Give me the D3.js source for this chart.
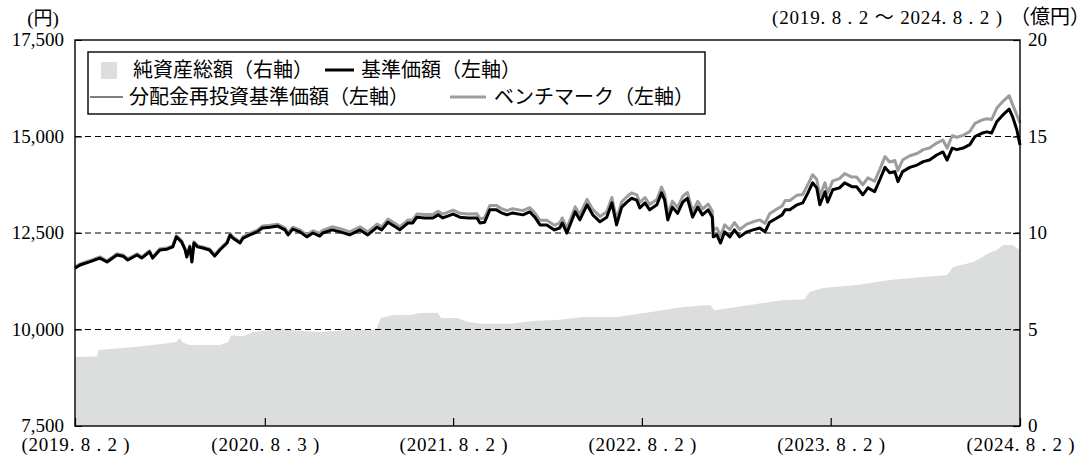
<!DOCTYPE html>
<html>
<head>
<meta charset="utf-8">
<script src="https://cdn.jsdelivr.net/npm/d3@7"></script>
<style>
  body { margin: 0; background: #fff; }
  svg { display: block; }
  text { font-family: "Liberation Serif", "Noto Sans CJK JP", serif; fill: #000; }
  .jp { font-family: "Noto Sans CJK JP", sans-serif; }
</style>
</head>
<body>
<svg id="chart" width="1091" height="461"></svg>
<script>
// dates of the price readings
const dates = [
  "2019-08-02","2019-08-12","2019-08-30","2019-09-19","2019-10-03","2019-10-22","2019-11-03","2019-11-12","2019-11-30","2019-12-09",
  "2019-12-24","2019-12-30","2020-01-13","2020-01-27","2020-02-07","2020-02-14","2020-02-24","2020-03-02","2020-03-05","2020-03-11",
  "2020-03-15","2020-03-19","2020-03-26","2020-04-05","2020-04-18","2020-04-28","2020-05-08","2020-05-22","2020-05-28","2020-06-02",
  "2020-06-16","2020-06-22","2020-07-05","2020-07-19","2020-07-29","2020-08-13","2020-08-28","2020-09-11","2020-09-17","2020-09-26",
  "2020-10-10","2020-10-23","2020-11-04","2020-11-17","2020-11-23","2020-12-11","2020-12-27","2021-01-14","2021-02-03","2021-02-18",
  "2021-03-08","2021-03-17","2021-03-29","2021-04-16","2021-04-21","2021-05-07","2021-05-16","2021-05-24","2021-06-08","2021-06-24",
  "2021-07-04","2021-07-13","2021-08-02","2021-08-15","2021-08-31","2021-09-17","2021-09-23","2021-10-02","2021-10-12","2021-10-25",
  "2021-11-04","2021-11-14","2021-11-25","2021-12-15","2021-12-28","2022-01-07","2022-01-17","2022-01-30","2022-02-14","2022-02-24",
  "2022-03-01","2022-03-10","2022-03-26","2022-04-04","2022-04-18","2022-04-29","2022-05-13","2022-05-26","2022-06-05","2022-06-14",
  "2022-06-24","2022-07-04","2022-07-13","2022-07-23","2022-07-29","2022-08-08","2022-08-17","2022-08-31","2022-09-09","2022-09-15",
  "2022-09-21","2022-09-30","2022-10-10","2022-10-20","2022-10-29","2022-11-08","2022-11-18","2022-11-27","2022-12-08","2022-12-16",
  "2022-12-18","2022-12-25","2023-01-01","2023-01-09","2023-01-19","2023-01-28","2023-02-07","2023-02-21","2023-03-05","2023-03-18",
  "2023-03-28","2023-04-06","2023-04-20","2023-04-30","2023-05-06","2023-05-15","2023-05-29","2023-06-09","2023-06-19","2023-06-28",
  "2023-07-06","2023-07-12","2023-07-22","2023-07-27","2023-08-06","2023-08-19","2023-08-29","2023-09-12","2023-09-21","2023-10-03",
  "2023-10-13","2023-10-26","2023-11-05","2023-11-15","2023-11-24","2023-12-04","2023-12-10","2023-12-19","2024-01-02","2024-01-16",
  "2024-01-28","2024-02-09","2024-02-23","2024-03-06","2024-03-14","2024-03-24","2024-04-02","2024-04-14","2024-04-27","2024-05-07",
  "2024-05-21","2024-05-30","2024-06-08","2024-06-18","2024-06-30","2024-07-12","2024-07-19","2024-07-27","2024-08-02"
];

// 基準価額 (円)
const navValues = [
  11590,11670,11750,11850,11750,11930,11900,11800,11930,11850,
  12010,11850,12060,12080,12140,12400,12270,12060,11880,12140,
  11750,12240,12140,12110,12060,11900,12060,12240,12450,12370,
  12240,12370,12450,12530,12630,12650,12680,12580,12450,12600,
  12530,12400,12500,12420,12500,12580,12530,12450,12580,12450,
  12650,12580,12780,12630,12580,12760,12760,12910,12890,12890,
  12970,12890,12990,12910,12890,12890,12760,12780,13100,13100,
  13020,12970,13020,12970,13050,12910,12710,12710,12580,12630,
  12760,12500,13050,12840,13230,12970,12790,12910,13280,12710,
  13170,13300,13400,13350,13150,13280,13100,13230,13540,13350,
  12840,13170,13010,13300,13400,12910,13170,12970,13100,12910,
  12400,12450,12240,12530,12400,12580,12400,12530,12580,12630,
  12530,12780,12890,12970,13100,13100,13230,13280,13540,13800,
  13670,13230,13570,13300,13620,13670,13800,13700,13700,13490,
  13670,13570,13880,14200,14060,14090,13830,14090,14200,14260,
  14350,14390,14520,14600,14390,14700,14660,14700,14790,15000,
  15090,15120,15090,15380,15560,15710,15500,15170,14780
];

// 分配金再投資基準価額 (円): no distributions, so it reads the same as 基準価額
const reinvestValues = navValues;

// ベンチマーク (円)
const benchValues = [
  11620,11700,11780,11880,11780,11960,11930,11830,11960,11880,
  12040,11880,12090,12110,12170,12430,12300,12090,11910,12170,
  11780,12270,12170,12140,12090,11930,12090,12270,12480,12400,
  12270,12400,12490,12570,12680,12700,12730,12630,12500,12650,
  12580,12450,12560,12490,12570,12660,12610,12530,12660,12530,
  12730,12660,12860,12710,12660,12840,12840,12990,12980,12980,
  13060,12990,13090,13010,12990,13000,12870,12890,13210,13210,
  13130,13080,13130,13080,13160,13020,12830,12830,12700,12760,
  12890,12630,13180,12980,13370,13110,12930,13050,13420,12850,
  13310,13440,13540,13490,13290,13420,13240,13370,13690,13500,
  12990,13320,13160,13450,13550,13060,13320,13120,13250,13070,
  12580,12630,12420,12710,12590,12770,12590,12730,12790,12840,
  12750,13000,13120,13200,13340,13340,13480,13500,13760,14010,
  13890,13460,13800,13530,13850,13910,14040,13950,13950,13750,
  13930,13840,14150,14480,14340,14380,14120,14390,14500,14560,
  14660,14700,14830,14910,14700,15020,14980,15030,15130,15340,
  15430,15460,15440,15730,15910,16060,15820,15550,15350
];

// 純資産総額 (億円)
const assetDates = [
  "2019-08-02","2019-09-14","2019-09-16","2019-11-30","2020-02-01","2020-02-14","2020-02-20","2020-02-28","2020-03-11","2020-05-08",
  "2020-05-24","2020-05-30","2020-06-22","2020-07-12","2020-08-28","2020-10-16","2020-11-17","2021-01-14","2021-02-21","2021-03-06",
  "2021-03-15","2021-04-08","2021-05-11","2021-05-31","2021-07-03","2021-07-10","2021-08-10","2021-08-29","2021-09-29","2021-11-19",
  "2022-01-11","2022-02-24","2022-04-09","2022-06-14","2022-08-17","2022-10-20","2022-12-12","2022-12-20","2023-02-27","2023-05-02",
  "2023-06-12","2023-06-22","2023-07-18","2023-09-21","2023-11-24","2024-01-28","2024-03-14","2024-03-26","2024-05-04","2024-06-06",
  "2024-06-18","2024-06-30","2024-07-19","2024-08-02"
];
const assetValues = [
  3.58,3.60,3.94,4.10,4.30,4.35,4.55,4.30,4.20,4.20,
  4.35,4.70,4.65,4.87,5.03,4.92,4.87,4.97,4.97,5.00,
  5.60,5.75,5.75,5.85,5.87,5.60,5.60,5.40,5.30,5.30,
  5.45,5.50,5.65,5.65,5.90,6.17,6.27,6.00,6.27,6.53,
  6.55,6.94,7.15,7.30,7.56,7.72,7.82,8.24,8.50,9.00,
  9.10,9.38,9.38,9.10
];

const xTickDates = ["2019-08-02","2020-08-03","2021-08-02","2022-08-02","2023-08-02","2024-08-02"];
const xTickLabels = ["(2019. 8 . 2 )","(2020. 8 . 3 )","(2021. 8 . 2 )","(2022. 8 . 2 )","(2023. 8 . 2 )","(2024. 8 . 2 )"];
const leftTicks = [7500, 10000, 12500, 15000, 17500];
const rightTicks = [0, 5, 10, 15, 20];
const gridValues = [10000, 12500, 15000];

const parse = d3.timeParse("%Y-%m-%d");
const plotL = 75, plotR = 1020, plotT = 40, plotB = 426;

const x = d3.scaleTime()
    .domain([parse(xTickDates[0]), parse(xTickDates[xTickDates.length - 1])])
    .range([plotL, plotR]);
const yL = d3.scaleLinear().domain([7500, 17500]).range([plotB, plotT]);
const yR = d3.scaleLinear().domain([0, 20]).range([plotB, plotT]);

const svg = d3.select("#chart");

// net assets area
const assets = assetDates.map((d, i) => ({date: parse(d), v: assetValues[i]}));
svg.append("path")
    .datum(assets)
    .attr("fill", "#dcdddd")
    .attr("d", d3.area().x(d => x(d.date)).y0(plotB).y1(d => yR(d.v)));

// dashed guide lines
svg.selectAll(".grid").data(gridValues).join("line")
    .attr("class", "grid")
    .attr("x1", plotL).attr("x2", plotR)
    .attr("y1", d => yL(d)).attr("y2", d => yL(d))
    .attr("stroke", "#000").attr("stroke-width", 1)
    .attr("stroke-dasharray", "6,4");

// price lines
function series(vals) {
  return dates.map((d, i) => ({date: parse(d), v: vals[i]}));
}
const line = d3.line().x(d => x(d.date)).y(d => yL(d.v));

svg.append("path").datum(series(benchValues))
    .attr("fill", "none").attr("stroke", "#9d9d9d").attr("stroke-width", 3)
    .attr("stroke-linejoin", "round").attr("d", line);
svg.append("path").datum(series(navValues))
    .attr("fill", "none").attr("stroke", "#000").attr("stroke-width", 3)
    .attr("stroke-linejoin", "round").attr("d", line);
svg.append("path").datum(series(reinvestValues))
    .attr("fill", "none").attr("stroke", "#000").attr("stroke-width", 1)
    .attr("d", line);

// frame
svg.append("rect")
    .attr("x", plotL).attr("y", plotT)
    .attr("width", plotR - plotL).attr("height", plotB - plotT)
    .attr("fill", "none").attr("stroke", "#000").attr("stroke-width", 1.4);

// axes
const xAxis = svg.append("g")
    .attr("transform", `translate(0,${plotB})`)
    .call(d3.axisBottom(x)
      .tickValues(xTickDates.map(parse))
      .tickSize(-8)
      .tickPadding(12)
      .tickFormat((d, i) => xTickLabels[i]));
xAxis.select(".domain").remove();
xAxis.selectAll("line").attr("stroke-width", 1.2);
xAxis.selectAll("text")
    .attr("font-size", 19)
    .attr("font-family", "Liberation Serif")
    .attr("textLength", 108)
    .attr("lengthAdjust", "spacing");

const lAxis = svg.append("g")
    .attr("transform", `translate(${plotL},0)`)
    .call(d3.axisLeft(yL).tickValues(leftTicks).tickSize(-7).tickPadding(11).tickFormat(d3.format(",")));
lAxis.select(".domain").remove();
lAxis.selectAll("text").attr("font-size", 19).attr("font-family", "Liberation Serif").attr("dy", "0.3em");

const rAxis = svg.append("g")
    .attr("transform", `translate(${plotR},0)`)
    .call(d3.axisRight(yR).tickValues(rightTicks).tickSize(-7).tickPadding(8));
rAxis.select(".domain").remove();
rAxis.selectAll("line").attr("stroke-width", 1.2);
rAxis.selectAll("text").attr("font-size", 19).attr("font-family", "Liberation Serif").attr("dy", "0.3em");

// unit labels
svg.append("text").attr("x", 43).attr("y", 25).attr("text-anchor", "middle")
    .attr("font-size", 19).text("(円)");
svg.append("text").attr("x", 772).attr("y", 24)
    .attr("font-size", 19).attr("textLength", 230).attr("lengthAdjust", "spacing")
    .text("(2019. 8 . 2 ～ 2024. 8 . 2 )");
svg.append("text").attr("class", "jp").attr("x", 1090).attr("y", 24).attr("text-anchor", "end")
    .attr("font-size", 20).text("（億円）");

// legend
const legend = svg.append("g");
legend.append("rect")
    .attr("x", 88).attr("y", 52).attr("width", 617).attr("height", 62)
    .attr("fill", "#fff").attr("stroke", "#000").attr("stroke-width", 1.4);
legend.append("rect").attr("x", 101).attr("y", 62).attr("width", 16).attr("height", 17).attr("fill", "#dcdddd");
legend.append("text").attr("class", "jp").attr("x", 133).attr("y", 70).attr("dy", "0.36em")
    .attr("font-size", 20).text("純資産総額（右軸）");
legend.append("line").attr("x1", 325).attr("x2", 354).attr("y1", 70).attr("y2", 70)
    .attr("stroke", "#000").attr("stroke-width", 3);
legend.append("text").attr("class", "jp").attr("x", 361).attr("y", 70).attr("dy", "0.36em")
    .attr("font-size", 20).text("基準価額（左軸）");
legend.append("line").attr("x1", 90).attr("x2", 123).attr("y1", 97).attr("y2", 97)
    .attr("stroke", "#000").attr("stroke-width", 1.2);
legend.append("text").attr("class", "jp").attr("x", 129).attr("y", 97).attr("dy", "0.36em")
    .attr("font-size", 20).text("分配金再投資基準価額（左軸）");
legend.append("line").attr("x1", 450).attr("x2", 486).attr("y1", 97).attr("y2", 97)
    .attr("stroke", "#9d9d9d").attr("stroke-width", 3);
legend.append("text").attr("class", "jp").attr("x", 494).attr("y", 97).attr("dy", "0.36em")
    .attr("font-size", 20).text("ベンチマーク（左軸）");
</script>
</body>
</html>
